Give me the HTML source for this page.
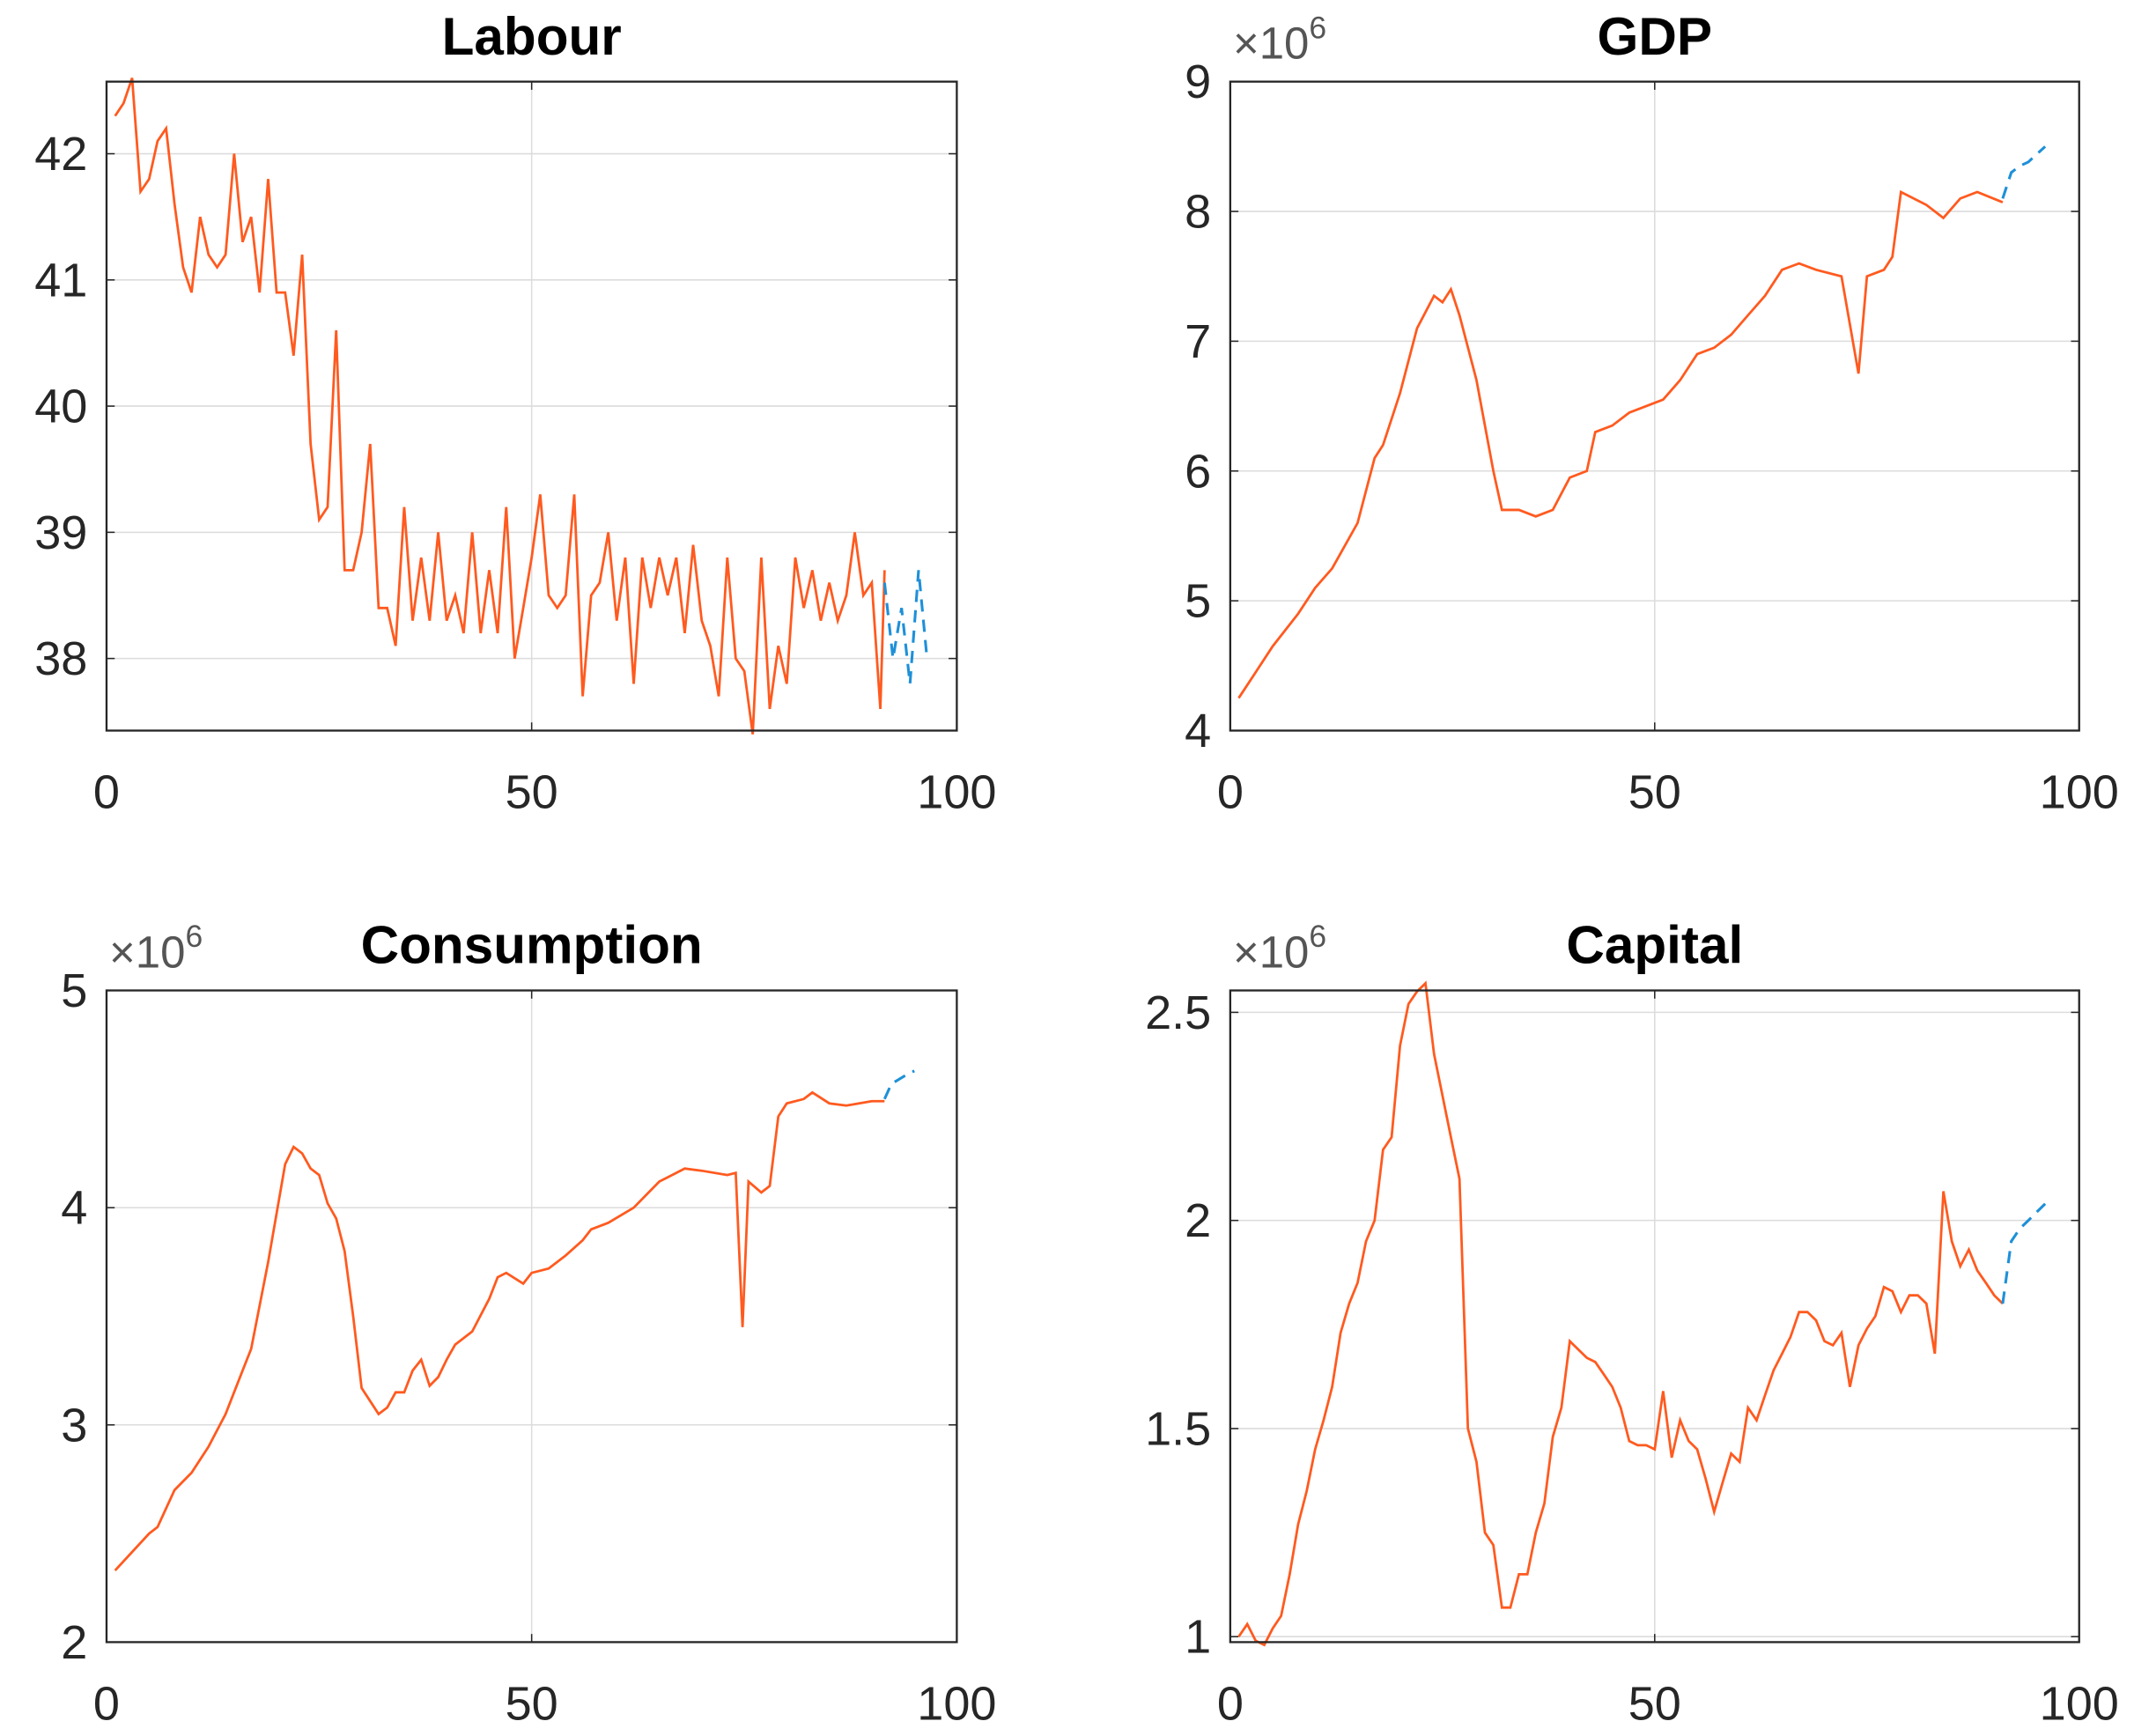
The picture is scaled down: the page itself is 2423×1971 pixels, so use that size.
<!DOCTYPE html>
<html><head><meta charset="utf-8"><style>
html,body{margin:0;padding:0;background:#fff;}
svg{display:block;}
text{font-family:"Liberation Sans",Arial,sans-serif;}
</style></head><body>
<svg id="s" width="2423" height="1971" viewBox="0 0 1568 1276" xmlns="http://www.w3.org/2000/svg"></svg>
<script>
const S=document.getElementById('s');
let out='';
function panel(o){
 const {x0,x1,y0,y1,vmin,vmax,ticks,title,exp,red,blue}=o;
 const X=t=>x0+(t)/100*(x1-x0);
 const Y=v=>y1-(v-vmin)/(vmax-vmin)*(y1-y0);
 [50].forEach(t=>out+=`<line x1="${X(t)}" x2="${X(t)}" y1="${y0}" y2="${y1}" stroke="#dcdcdc" stroke-width="1"/>`);
 ticks.forEach(v=>{const y=Y(v);out+=`<line x1="${x0}" x2="${x1}" y1="${y}" y2="${y}" stroke="#dcdcdc" stroke-width="1"/>`;
   out+=`<line x1="${x0}" x2="${x0+6}" y1="${y}" y2="${y}" stroke="#262626"/><line x1="${x1}" x2="${x1-6}" y1="${y}" y2="${y}" stroke="#262626"/>`;
   out+=`<text x="${x0-14}" y="${y+12}" font-size="35" text-anchor="end" fill="#262626">${v}</text>`;});
 [0,50,100].forEach(t=>{const x=X(t);out+=`<line x1="${x}" x2="${x}" y1="${y1}" y2="${y1-6}" stroke="#262626"/><line x1="${x}" x2="${x}" y1="${y0}" y2="${y0+6}" stroke="#262626"/>`;
   out+=`<text x="${x}" y="${y1+57}" font-size="35" text-anchor="middle" fill="#262626">${t}</text>`;});
 const pts=a=>a.map(p=>X(p[0]).toFixed(1)+','+Y(p[1]).toFixed(1)).join(' ');
 out+=`<polyline points="${pts(red)}" fill="none" stroke="#FF5A1F" stroke-width="1.8"/>`;
 out+=`<polyline points="${pts(blue)}" fill="none" stroke="#1E90D8" stroke-width="2" stroke-dasharray="9,6"/>`;
 out+=`<rect x="${x0}" y="${y0}" width="${x1-x0}" height="${y1-y0}" fill="none" stroke="#262626" stroke-width="1.5"/>`;
 out+=`<text x="${(x0+x1)/2}" y="${y0-20}" font-size="39" font-weight="bold" text-anchor="middle" fill="#000">${title}</text>`;
 if(exp) out+=`<text x="${x0+2}" y="${y0-17}" font-size="33" fill="#555">×10<tspan dy="-15" font-size="23">6</tspan></text>`;
}
const P=s=>s.trim().split(/\s+/).map(q=>q.split(':').map(Number));
panel({x0:78,x1:703,y0:60,y1:537,vmin:38-53/92.75,vmax:42+53/92.75,ticks:[38,39,40,41,42],title:'Labour',
red:P(`1:42.3 2:42.4 3:42.6 4:41.7 5:41.8 6:42.1 7:42.2 8:41.6 9:41.1 10:40.9 11:41.5 12:41.2 13:41.1 14:41.2 15:42.0 16:41.3 17:41.5 18:40.9 19:41.8 20:40.9 21:40.9 22:40.4 23:41.2 24:39.7 25:39.1 26:39.2 27:40.6 28:38.7 29:38.7 30:39.0 31:39.7 32:38.4 33:38.4 34:38.1 35:39.2 36:38.3 37:38.8 38:38.3 39:39.0 40:38.3 41:38.5 42:38.2 43:39.0 44:38.2 45:38.7 46:38.2 47:39.2 48:38.0 49:38.4 50:38.8 51:39.3 52:38.5 53:38.4 54:38.5 55:39.3 56:37.7 57:38.5 58:38.6 59:39.0 60:38.3 61:38.8 62:37.8 63:38.8 64:38.4 65:38.8 66:38.5 67:38.8 68:38.2 69:38.9 70:38.3 71:38.1 72:37.7 73:38.8 74:38.0 75:37.9 76:37.4 77:38.8 78:37.6 79:38.1 80:37.8 81:38.8 82:38.4 83:38.7 84:38.3 85:38.6 86:38.3 87:38.5 88:39.0 89:38.5 90:38.6 91:37.6 91.5:38.7`),
blue:P(`91.5:38.6 92.5:38.0 93.5:38.4 94.5:37.8 95.5:38.7 96.5:38.0`)});
panel({x0:904,x1:1528,y0:60,y1:537,vmin:4,vmax:9,ticks:[4,5,6,7,8,9],title:'GDP',exp:1,
red:P(`1:4.25 3:4.45 5:4.65 8:4.9 10:5.1 12:5.25 15:5.6 17:6.1 18:6.2 20:6.6 22:7.1 24:7.35 25:7.3 26:7.4 27:7.2 29:6.7 31:6.0 32:5.7 34:5.7 36:5.65 38:5.7 40:5.95 42:6.0 43:6.3 45:6.35 47:6.45 49:6.5 51:6.55 53:6.7 55:6.9 57:6.95 59:7.05 61:7.2 63:7.35 65:7.55 67:7.6 69:7.55 72:7.5 74:6.75 75:7.5 77:7.55 78:7.65 79:8.15 82:8.05 84:7.95 86:8.1 88:8.15 91:8.07`),
blue:P(`91:8.1 92:8.3 93:8.35 94:8.38 96:8.5`)});
panel({x0:78,x1:703,y0:728,y1:1207,vmin:2,vmax:5,ticks:[2,3,4,5],title:'Consumption',exp:1,
red:P(`1:2.33 5:2.5 6:2.53 8:2.7 10:2.78 12:2.9 14:3.05 16:3.25 17:3.35 19:3.75 21:4.2 22:4.28 23:4.25 24:4.18 25:4.15 26:4.02 27:3.95 28:3.8 29:3.5 30:3.17 32:3.05 33:3.08 34:3.15 35:3.15 36:3.25 37:3.3 38:3.18 39:3.22 40:3.3 41:3.37 43:3.43 45:3.58 46:3.68 47:3.7 49:3.65 50:3.7 52:3.72 54:3.78 56:3.85 57:3.9 59:3.93 62:4.0 65:4.12 68:4.18 70:4.17 73:4.15 74:4.16 74.8:3.45 75.5:4.12 77:4.07 78:4.1 79:4.42 80:4.48 82:4.5 83:4.53 85:4.48 87:4.47 90:4.49 91.5:4.49`),
blue:P(`91.5:4.5 92.3:4.57 94:4.61 95:4.63`)});
panel({x0:904,x1:1528,y0:728,y1:1207,vmin:1-4/304,vmax:2.5+16/304,ticks:[1,1.5,2,2.5],title:'Capital',exp:1,
red:P(`1:1.0 2:1.03 3:0.99 4:0.98 5:1.02 6:1.05 7:1.15 8:1.27 9:1.35 10:1.45 11:1.52 12:1.6 13:1.73 14:1.8 15:1.85 16:1.95 17:2.0 18:2.17 19:2.2 20:2.42 21:2.52 22:2.55 23:2.57 24:2.4 25:2.3 26:2.2 27:2.1 28:1.5 29:1.42 30:1.25 31:1.22 32:1.07 33:1.07 34:1.15 35:1.15 36:1.25 37:1.32 38:1.48 39:1.55 40:1.71 41:1.69 42:1.67 43:1.66 44:1.63 45:1.6 46:1.55 47:1.47 48:1.46 49:1.46 50:1.45 51:1.59 52:1.43 53:1.52 54:1.47 55:1.45 56:1.38 57:1.3 58:1.37 59:1.44 60:1.42 61:1.55 62:1.52 63:1.58 64:1.64 65:1.68 66:1.72 67:1.78 68:1.78 69:1.76 70:1.71 71:1.7 72:1.73 73:1.6 74:1.7 75:1.74 76:1.77 77:1.84 78:1.83 79:1.78 80:1.82 81:1.82 82:1.8 83:1.68 84:2.07 85:1.95 86:1.89 87:1.93 88:1.88 89:1.85 90:1.82 91:1.8`),
blue:P(`91:1.8 92:1.95 93:1.98 94:2.0 95:2.02 96:2.04`)});
S.innerHTML=out;
</script>
</body></html>
